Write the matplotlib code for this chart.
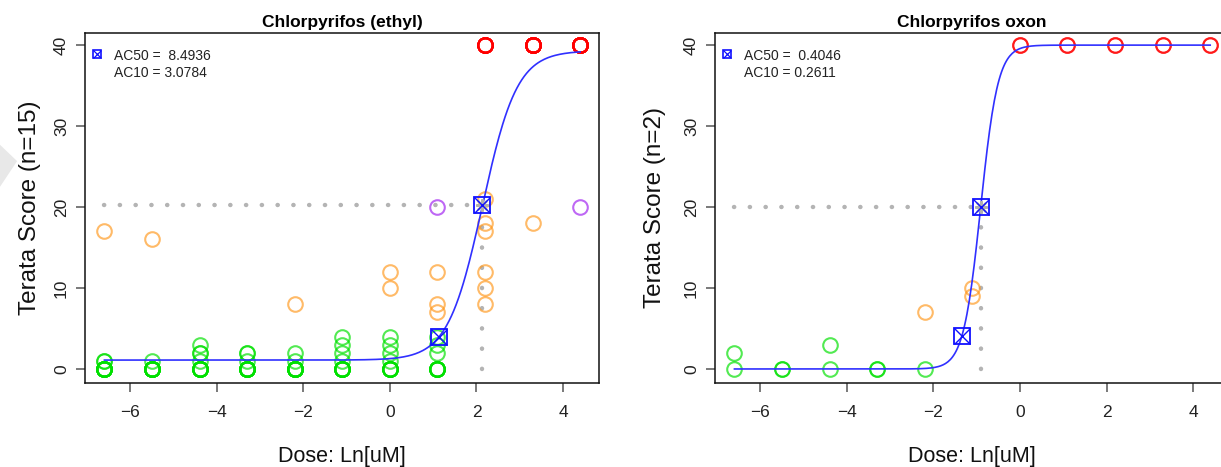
import numpy as np
import matplotlib.pyplot as plt
from matplotlib.patches import Polygon

# doses in uM (3-fold dilutions), plotted on ln scale
doses_uM = np.array([81/3**k for k in range(10, -1, -1)])
ln_dose = np.log(doses_uM)

# Chlorpyrifos (ethyl), n=15 : scores per dose, split by colour group
eth_green = [[0]*12 + [1, 1], [0]*13 + [1], [0]*10 + [1, 2, 2, 3], [0]*11 + [1, 2, 2],
             [0]*12 + [1, 2], [0]*10 + [1, 2, 3, 4], [0]*8 + [1, 2, 3, 4], [0]*8 + [2, 3, 4],
             [], [], []]
eth_orange = [[17], [16], [], [], [8], [], [12, 10], [12, 8, 7], [21, 18, 17, 12, 10, 8], [18], []]
eth_purple = [[], [], [], [], [], [], [], [20], [], [], [20]]
eth_red = [[], [], [], [], [], [], [], [], [40]*9, [40]*14, [40]*14]

# Chlorpyrifos oxon, n=2
oxo_green = [[0, 2], [0, 0], [0, 3], [0, 0], [0], [], [], [], [], [], []]
oxo_orange = [[], [], [], [], [7], [10, 9], [], [], [], [], []]
oxo_purple = [[]]*11
oxo_red = [[], [], [], [], [], [], [40, 40], [40, 40], [40, 40], [40, 40], [40, 40]]

# fitted Hill curves: bottom, top, slope, AC50, AC10
eth_fit = dict(bottom=1.1, top=39.3, slope=2.5, ac50=8.4936, ac10=3.0784)
oxo_fit = dict(bottom=0.0, top=40.0, slope=5.0, ac50=0.4046, ac10=0.2611)

titles = ["Chlorpyrifos (ethyl)", "Chlorpyrifos oxon"]
ylabels = ["Terata Score (n=15)", "Terata Score (n=2)"]

colours = {"green": "#00e000", "orange": "#ff9a20", "purple": "#a020f0", "red": "#ff0000"}
plt.rcParams["font.family"] = ["Liberation Sans", "DejaVu Sans"]


def hill(x, f):
    return f["bottom"] + (f["top"] - f["bottom"]) / (1 + np.exp(-f["slope"] * (x - np.log(f["ac50"]))))


fig = plt.figure(figsize=(12.21, 4.67), dpi=100)
fig.patches.append(Polygon([[0, 0.69], [0.014, 0.655], [0, 0.60]], closed=True,
                           transform=fig.transFigure, facecolor="#e8e8e8", edgecolor="none"))

ax1 = fig.add_axes([0.0696, 0.1799, 0.421, 0.7495])
ax2 = fig.add_axes([0.5856, 0.1799, 0.421, 0.7495])

panels = [(ax1, [eth_green, eth_orange, eth_purple, eth_red], eth_fit),
          (ax2, [oxo_green, oxo_orange, oxo_purple, oxo_red], oxo_fit)]

for i, (ax, groups, fit) in enumerate(panels):
    x50 = np.log(fit["ac50"])
    x10 = np.log(fit["ac10"])
    y50 = hill(x50, fit)
    y10 = hill(x10, fit)

    # dotted guide lines to AC50
    ax.plot([ln_dose[0], x50], [y50, y50], color="#b4b4b4", lw=3.2,
            linestyle=(0, (0.05, 3.5)), dash_capstyle="round", zorder=1)
    ax.plot([x50, x50], [0, y50], color="#b4b4b4", lw=3.2,
            linestyle=(0, (0.05, 4.5)), dash_capstyle="round", zorder=1)

    for name, g in zip(["green", "orange", "purple", "red"], groups):
        xs, ys = [], []
        for d, vals in zip(ln_dose, g):
            xs += [d] * len(vals)
            ys += vals
        ax.plot(xs, ys, "o", mfc="none", mec=colours[name], mew=1.5, ms=10.5,
                alpha=0.68, zorder=2)

    xc = np.linspace(ln_dose[0], ln_dose[-1], 400)
    ax.plot(xc, hill(xc, fit), color="#3030ff", lw=1.2, zorder=3)

    ax.plot([x50], [y50], marker=(8, 2, 0), color="#b0b0b0", ms=9, mew=1.5, zorder=4)
    for xm, ym in [(x50, y50), (x10, y10)]:
        ax.plot([xm], [ym], "s", mfc="none", mec="#1010ff", mew=1.3, ms=11, zorder=5)
        ax.plot([xm], [ym], "x", color="#1010ff", mew=1.0, ms=11, zorder=5)

    # legend
    ax.plot([0.023], [0.940], "s", transform=ax.transAxes, mfc="none", mec="#1010ff",
            mew=1.2, ms=5.5, clip_on=False)
    ax.plot([0.023], [0.940], "x", transform=ax.transAxes, color="#1010ff", mew=0.9, ms=5.5)
    ax.text(0.056, 0.934, "AC50 =  %.4f" % fit["ac50"], transform=ax.transAxes,
            fontsize=10, va="center", ha="left", color="#222222")
    ax.text(0.056, 0.885, "AC10 = %.4f" % fit["ac10"], transform=ax.transAxes,
            fontsize=10, va="center", ha="left", color="#222222")

    ax.set_xlim(-7.04, 4.83)
    ax.set_ylim(-1.73, 41.5)
    ax.set_xticks([-6, -4, -2, 0, 2, 4])
    ax.set_yticks([0, 10, 20, 30, 40])
    ax.set_xticklabels(["\u22126", "\u22124", "\u22122", "0", "2", "4"])
    for lab in ax.get_yticklabels():
        lab.set_rotation(90)
        lab.set_va("center")
    ax.tick_params(direction="out", length=6.5, width=1.1, color="#555555",
                   labelsize=12.5, labelcolor="#222222")
    ax.tick_params(axis="x", pad=9)
    ax.tick_params(axis="y", pad=5)
    for s in ax.spines.values():
        s.set_linewidth(1.1)
        s.set_color("#111111")

    ax.set_title(titles[i], fontsize=12.5, fontweight="bold", pad=4)
    ax.text(0.5, -0.211, "Dose: Ln[uM]", transform=ax.transAxes, fontsize=15.5,
            ha="center", va="center", color="#111111")
    ax.text(-0.107 if i == 0 else -0.117, 0.5, ylabels[i], transform=ax.transAxes,
            fontsize=17.5, rotation=90, ha="center", va="center", color="#111111")

fig.savefig("out.png", dpi=100)
